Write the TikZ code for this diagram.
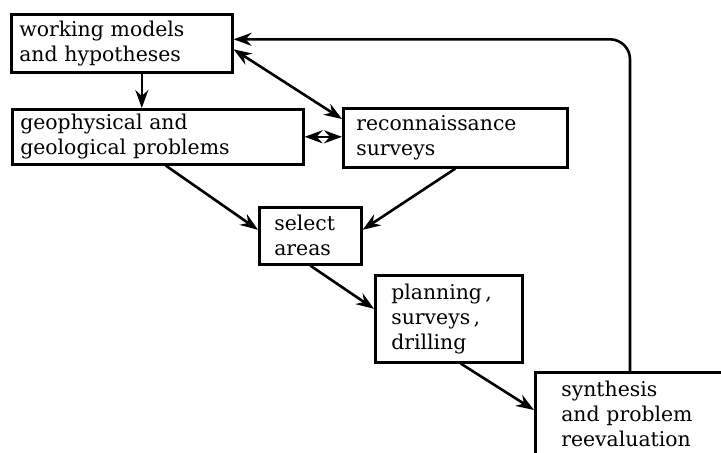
\documentclass[tikz,border=0pt]{standalone}
\usepackage{fontspec}
\setmainfont{DejaVu Serif}
\usetikzlibrary{positioning, arrows.meta}

\begin{document}
\begin{tikzpicture}[x=0.5pt, y=-0.5pt,
    font=\fontsize{10.2}{12.5}\selectfont,
    box/.style={draw, line width=1.3pt, anchor=north west, align=left,
                inner ysep=0pt},
    arr/.style={-{Stealth[length=9pt, width=6.5pt, inset=3pt]}, line width=1.3pt},
    dblarr/.style={{Stealth[length=9pt, width=6.5pt, inset=3pt]}-{Stealth[length=9pt, width=6.5pt, inset=3pt]},
                   line width=1.3pt}]
        \useasboundingbox (0,0) rectangle (721,452);
        \clip (0,0) rectangle (721,452);
        \node[box, inner xsep=4pt, text width=102.5pt, minimum height=29pt]
              (work) at (10,13) {working models\\and hypotheses};
        \node[box, inner xsep=4pt, text width=137.5pt, minimum height=27.5pt]
              (geo) at (11,108) {geophysical and\\geological problems};
        \node[box, inner xsep=6.5pt, text width=99pt, minimum height=29.5pt]
              (recon) at (342,107) {reconnaissance\\surveys};
        \node[box, inner xsep=7.5pt, text width=36pt, minimum height=28.5pt]
              (select) at (258,206) {select\\areas};
        \node[box, inner xsep=8pt, text width=57.5pt, minimum height=43.5pt]
              (plan) at (374,274) {planning\,,\\surveys\,,\\drilling};
        \node[box, inner xsep=13pt, inner ysep=4.5pt, text width=100pt]
              (synth) at (534,371) {synthesis\\and problem\\reevaluation};
        \draw[arr] ([xshift=10pt]work.south) -- ([xshift=10pt]work.south |- geo.north);
        \draw[dblarr] ([yshift=-3pt]work.east) -- ([yshift=-6pt]recon.north west);
        \draw[dblarr] (geo.east) -- (geo.east -| recon.west);
        \draw[arr] ([xshift=4pt]geo.south) -- ([yshift=3pt]select.west);
        \draw[arr] (recon.south) -- ([yshift=3pt]select.east);
        \draw[arr] (select.south) -- ([yshift=5pt]plan.west);
        \draw[arr] ([xshift=6pt]plan.south) -- ([yshift=-19.5pt]synth.north west);
        \draw[arr, rounded corners=10pt] ([xshift=48pt]synth.north west)
              |- ([yshift=2pt]work.east);
      \end{tikzpicture}
\end{document}
